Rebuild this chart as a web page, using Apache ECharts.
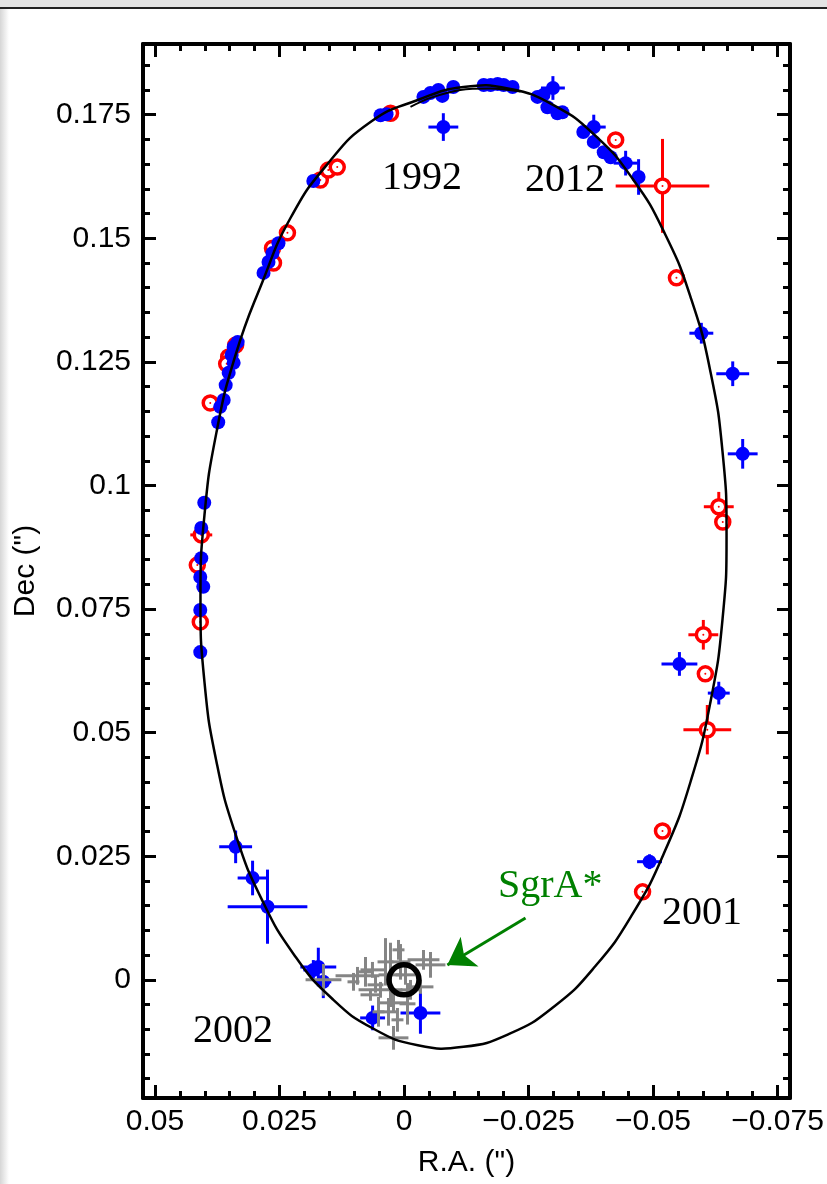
<!DOCTYPE html>
<html>
<head>
<meta charset="utf-8">
<script src="https://cdn.jsdelivr.net/npm/echarts@6/dist/echarts.min.js"></script>
<style>
html,body{margin:0;padding:0;background:#fff;}
#chart{width:827px;height:1184px;}
</style>
</head>
<body>
<div id="chart"></div>
<script>
// ---------- data (R.A. ["], Dec ["]) ----------
const xMajorTicks = [0.05, 0.025, 0, -0.025, -0.05, -0.075];
const yMajorTicks = [0, 0.025, 0.05, 0.075, 0.1, 0.125, 0.15, 0.175];
const xMinorTicks = [0.045,0.04,0.035,0.03,0.02,0.015,0.01,0.005,-0.005,-0.01,-0.015,-0.02,-0.03,-0.035,-0.04,-0.045,-0.055,-0.06,-0.065,-0.07];
const yMinorTicks = [-0.02,-0.015,-0.01,-0.005,0.005,0.01,0.015,0.02,0.03,0.035,0.04,0.045,0.055,0.06,0.065,0.07,0.08,0.085,0.09,0.095,0.105,0.11,0.115,0.12,0.13,0.135,0.14,0.145,0.155,0.16,0.165,0.17,0.18,0.185];

// orbit curve, points (closed loop)
const orbit = [
 [-0.06476,0.08999],[-0.06396,0.07302],[-0.06157,0.05640],[-0.05769,0.04059],[-0.05241,0.02609],
 [-0.04590,0.01333],[-0.03835,0.00269],[-0.03002,-0.00548],[-0.02112,-0.01094],[-0.01195,-0.01355],
 [-0.00277,-0.01321],[0.00612,-0.00989],[0.01446,-0.00378],[0.02201,0.00499],[0.02851,0.01618],
 [0.03380,0.02938],[0.03767,0.04423],[0.04006,0.06028],[0.04086,0.07705],[0.04006,0.09401],
 [0.03767,0.11064],[0.03380,0.12645],[0.02851,0.14095],[0.02279,0.15410],[0.01536,0.16502],
 [0.00673,0.17351],[-0.00277,0.17798],[-0.01195,0.18059],[-0.02112,0.18024],[-0.03002,0.17693],
 [-0.03835,0.17082],[-0.04590,0.16204],[-0.05241,0.15086],[-0.05769,0.13765],[-0.06157,0.12281],
 [-0.06396,0.10675]
];
const orbitSegment = [[-0.0013,0.1766],[-0.0053,0.1784],[-0.0113,0.1800],[-0.0174,0.1803],[-0.0234,0.1797]];

// blue filled points without error bars
const bluePoints = [
 [0.0182,0.1616],[0.0252,0.1490],[0.0264,0.1470],[0.0272,0.1452],[0.0282,0.1430],
 [0.0334,0.1290],[0.0342,0.1280],[0.0346,0.1264],[0.0342,0.1248],[0.0352,0.1228],
 [0.0358,0.1203],[0.0362,0.1173],[0.0369,0.1159],[0.0373,0.1128],
 [0.0401,0.0965],[0.0407,0.0914],[0.0407,0.0853],[0.0409,0.0815],[0.0403,0.0795],
 [0.0409,0.0748],[0.0409,0.0663],
 [0.0047,0.1749],[0.0035,0.1751],[-0.0039,0.1786],[-0.0053,0.1794],[-0.0069,0.1800],
 [-0.0077,0.1788],[-0.0099,0.1806],[-0.0160,0.1810],[-0.0174,0.1810],[-0.0188,0.1812],
 [-0.0200,0.1810],[-0.0218,0.1806],[-0.0268,0.1786],[-0.0280,0.1790],[-0.0288,0.1765],
 [-0.0308,0.1753],[-0.0318,0.1755],[-0.0360,0.1715],[-0.0381,0.1695],[-0.0401,0.1674],
 [-0.0415,0.1664]
];
// blue filled points with error bars: [RA, Dec, RA err, Dec err]
const blueErr = [
 [-0.0079,0.1725,0.0030,0.0028],[-0.0299,0.1804,0.0024,0.0024],[-0.0381,0.1725,0.0024,0.0025],
 [-0.0445,0.1652,0.0024,0.0025],[-0.0471,0.1624,0.0010,0.0036],
 [-0.0597,0.1308,0.0024,0.0021],[-0.0660,0.1226,0.0033,0.0025],[-0.0680,0.1064,0.0030,0.0030],
 [-0.0553,0.0639,0.0036,0.0024],[-0.0632,0.0580,0.0022,0.0023],[-0.0493,0.0239,0.0025,0.0015],
 [0.0338,0.0269,0.0033,0.0033],[0.0304,0.0206,0.0030,0.0035],[0.0274,0.0148,0.0080,0.0075],
 [0.0172,0.0026,0.0036,0.0039],[0.0182,0.0020,0.0020,0.0020],[0.0162,-0.0004,0.0016,0.0033],
 [0.0063,-0.0077,0.0025,0.0025],[-0.0033,-0.0067,0.0040,0.0042]
];
// red open circles without error bars
const redPoints = [
 [0.0027,0.1753],[0.0168,0.1618],[0.0152,0.1638],[0.0134,0.1644],[0.0234,0.1511],
 [0.0264,0.1480],[0.0262,0.1450],[0.0338,0.1284],[0.0352,0.1260],[0.0356,0.1246],
 [0.0389,0.1167],[0.0415,0.0839],[0.0409,0.0724],
 [-0.0425,0.1699],[-0.0547,0.1420],[-0.0640,0.0926],[-0.0605,0.0619],
 [-0.0519,0.0301],[-0.0479,0.0178]
];
// red open circles with error bars: [RA, Dec, RA err, Dec err]
const redErr = [
 [0.0407,0.0900,0.0022,0],[-0.0519,0.1606,0.0094,0.0095],[-0.0632,0.0957,0.0030,0.0030],
 [-0.0601,0.0698,0.0030,0.0030],[-0.0609,0.0506,0.0048,0.0050]
];
// grey crosses around SgrA*: [RA, Dec, RA err, Dec err]
const greyErr = [
 [0.01616,0.00000,0.0036,0.0032],[0.00934,0.00081,0.0044,0.0018],[0.00773,0.00162,0.0016,0.0030],
 [0.01014,-0.00040,0.0012,0.0018],[0.00633,0.00202,0.0024,0.0016],[0.00371,0.00364,0.0016,0.0048],
 [0.00271,0.00101,0.0024,0.0065],[0.00211,-0.01173,0.0030,0.0024],[0.00211,-0.00465,0.0028,0.0020],
 [0.00472,-0.00202,0.0044,0.0016],[0.00512,-0.00647,0.0012,0.0030],[0.00070,0.00364,0.0020,0.0036],
 [-0.00030,0.00101,0.0020,0.0020],[-0.00070,-0.00485,0.0016,0.0042],[-0.00131,-0.00202,0.0020,0.0020],
 [-0.00392,0.00404,0.0032,0.0020],[-0.00532,0.00303,0.0030,0.0026],[-0.00331,-0.00142,0.0026,0.0014],
 [0.00311,-0.00647,0.0020,0.0028],[0.00131,-0.00809,0.0012,0.0024],[0.00572,-0.00101,0.0016,0.0016],
 [0.00110,0.00607,0.0012,0.0020],[0.00673,-0.00303,0.0020,0.0012]
];
const sgrA = [[0, 0]];
const arrowLine = [[-0.0244, 0.0125], [-0.0087, 0.0030]];

// ---------- chart ----------
const chart = echarts.init(document.getElementById('chart'), null, {renderer: 'canvas'});
const LABEL_FONT = '"Liberation Sans", Arial, sans-serif';
const SERIF = '"Liberation Serif", "DejaVu Serif", serif';
const fmt = v => (v === 0 ? '0' : String(v).replace('-', '\u2212'));

function errRender(color) {
  return function (params, api) {
    const x = api.value(0), y = api.value(1), ex = api.value(2), ey = api.value(3);
    const children = [];
    if (ex > 0) {
      const a = api.coord([x - ex, y]), b = api.coord([x + ex, y]);
      children.push({type: 'line', shape: {x1: a[0], y1: a[1], x2: b[0], y2: b[1]}, style: {stroke: color, lineWidth: 3}});
    }
    if (ey > 0) {
      const a = api.coord([x, y - ey]), b = api.coord([x, y + ey]);
      children.push({type: 'line', shape: {x1: a[0], y1: a[1], x2: b[0], y2: b[1]}, style: {stroke: color, lineWidth: 3}});
    }
    return {type: 'group', children: children};
  };
}

// closed smooth orbit drawn from the orbit points through the axes' scales
function orbitRender(params, api) {
  if (params.dataIndex !== 0) return null;
  const pts = orbit.map(p => api.coord(p));
  return {type: 'polygon', shape: {points: pts, smooth: 0.5},
          style: {fill: 'none', stroke: '#000', lineWidth: 2.5}};
}

const XMIN = -0.0775, XMAX = 0.0524, YMIN = -0.0239, YMAX = 0.1893;
function xAx(pos, ticks, len, showLine, showLabel) {
  return {
    type: 'value', position: pos, min: XMIN, max: XMAX, inverse: true,
    splitLine: {show: false},
    axisLine: {show: showLine, onZero: false, lineStyle: {color: '#000', width: 4}},
    axisTick: {show: true, inside: true, length: len, customValues: ticks, lineStyle: {color: '#000', width: 3}},
    axisLabel: showLabel ? {show: true, customValues: ticks, formatter: fmt, color: '#000', fontSize: 30, fontFamily: LABEL_FONT, margin: 9} : {show: false},
    name: showLabel ? 'R.A. (")' : '', nameLocation: 'middle', nameGap: 50,
    nameTextStyle: {color: '#000', fontSize: 30, fontFamily: LABEL_FONT, verticalAlign: 'top'}
  };
}
function yAx(pos, ticks, len, showLine, showLabel) {
  return {
    type: 'value', position: pos, min: YMIN, max: YMAX,
    splitLine: {show: false},
    axisLine: {show: showLine, onZero: false, lineStyle: {color: '#000', width: 4}},
    axisTick: {show: true, inside: true, length: len, customValues: ticks, lineStyle: {color: '#000', width: 3}},
    axisLabel: showLabel ? {show: true, customValues: ticks, formatter: fmt, color: '#000', fontSize: 30, fontFamily: LABEL_FONT, margin: 12} : {show: false},
    name: showLabel ? 'Dec (")' : '', nameLocation: 'middle', nameGap: 102, nameRotate: 90,
    nameTextStyle: {color: '#000', fontSize: 30, fontFamily: LABEL_FONT}
  };
}

const redAll = redPoints.concat(redErr.map(d => [d[0], d[1]]));
const blueAll = bluePoints.concat(blueErr.map(d => [d[0], d[1]]));

const option = {
  animation: false,
  backgroundColor: '#fff',
  grid: {left: 143, right: 37, top: 44, bottom: 86, containLabel: false, outerBoundsMode: 'none'},
  xAxis: [
    xAx('bottom', xMajorTicks, 13, true, true),
    xAx('bottom', xMinorTicks, 7, false, false),
    xAx('top', xMajorTicks, 13, true, false),
    xAx('top', xMinorTicks, 7, false, false)
  ],
  yAxis: [
    yAx('left', yMajorTicks, 13, true, true),
    yAx('left', yMinorTicks, 7, false, false),
    yAx('right', yMajorTicks, 13, true, false),
    yAx('right', yMinorTicks, 7, false, false)
  ],
  series: [
    {type: 'custom', name: 'red err', z: 2, renderItem: errRender('#ff0000'), data: redErr, encode: {x: 0, y: 1}, silent: true},
    {type: 'custom', name: 'blue err', z: 2, renderItem: errRender('#0000ff'), data: blueErr, encode: {x: 0, y: 1}, silent: true},
    {type: 'scatter', name: 'red', z: 3, symbol: 'circle', symbolSize: 14,
     itemStyle: {color: '#ffffff', borderColor: '#ff0000', borderWidth: 3.5, opacity: 1},
     data: redAll, silent: true},
    {type: 'scatter', name: 'red centre', z: 3, symbol: 'circle', symbolSize: 2,
     itemStyle: {color: '#ff0000', opacity: 1}, data: redAll, silent: true},
    {type: 'scatter', name: 'blue', z: 4, symbol: 'circle', symbolSize: 14,
     itemStyle: {color: '#0000ff', opacity: 1}, data: blueAll, silent: true},
    {type: 'custom', name: 'grey err', z: 5, renderItem: errRender('#858585'), data: greyErr, encode: {x: 0, y: 1}, silent: true},
    {type: 'custom', name: 'orbit', z: 6, renderItem: orbitRender, data: orbit, encode: {x: 0, y: 1}, silent: true},
    {type: 'line', name: 'orbit2', z: 6, data: orbitSegment, showSymbol: false, smooth: 0.3,
     lineStyle: {color: '#000', width: 2}, silent: true},
    {type: 'scatter', name: 'SgrA*', z: 7, symbol: 'circle', symbolSize: 30,
     itemStyle: {color: 'rgba(0,0,0,0)', borderColor: '#000', borderWidth: 5.5, opacity: 1}, data: sgrA, silent: true},
    {type: 'lines', name: 'arrow', coordinateSystem: 'cartesian2d', z: 7, silent: true,
     symbol: ['none', 'arrow'], symbolSize: 26,
     lineStyle: {color: '#008000', width: 3, opacity: 1},
     data: [{coords: arrowLine}]}
  ],
  graphic: [
    {type: 'rect', left: 0, top: 0, shape: {width: 827, height: 7}, style: {fill: '#e4e4e4'}, z: 100},
    {type: 'rect', left: 0, top: 7, shape: {width: 827, height: 2}, style: {fill: '#222'}, z: 100},
    {type: 'rect', left: 0, top: 9, shape: {width: 9, height: 1175},
     style: {fill: new echarts.graphic.LinearGradient(0, 0, 1, 0, [{offset: 0, color: '#d6d6d6'}, {offset: 1, color: '#ffffff'}])}, z: 100},
    {type: 'text', left: 382, top: 158, style: {text: '1992', font: '40px ' + SERIF, fill: '#000'}, z: 50},
    {type: 'text', left: 525, top: 160, style: {text: '2012', font: '40px ' + SERIF, fill: '#000'}, z: 50},
    {type: 'text', left: 662, top: 893, style: {text: '2001', font: '40px ' + SERIF, fill: '#000'}, z: 50},
    {type: 'text', left: 193, top: 1011, style: {text: '2002', font: '40px ' + SERIF, fill: '#000'}, z: 50},
    {type: 'text', left: 498, top: 866, style: {text: 'SgrA*', font: '40px ' + SERIF, fill: '#008000'}, z: 50}
  ]
};
chart.setOption(option);
</script>
</body>
</html>
